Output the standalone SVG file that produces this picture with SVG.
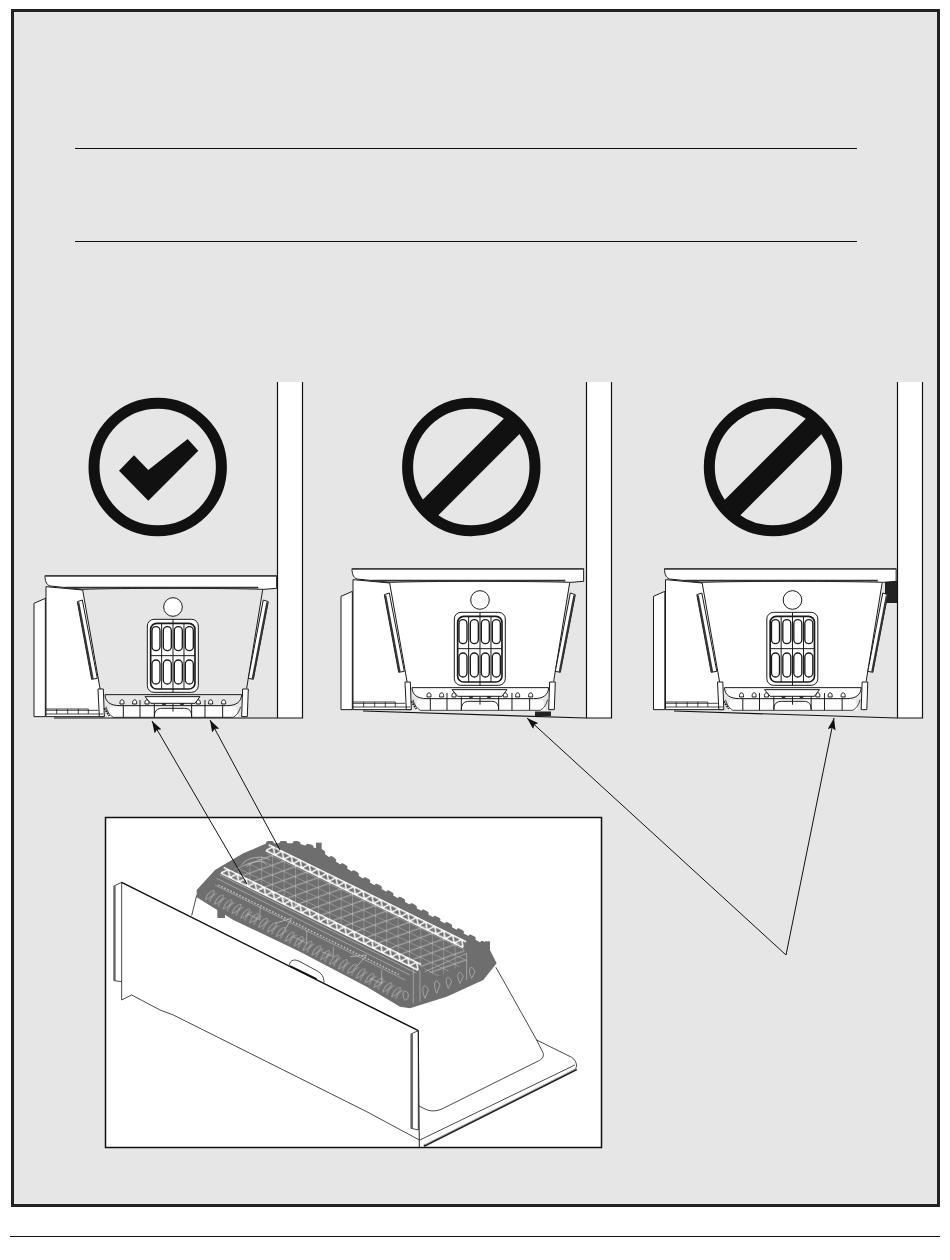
<svg xmlns="http://www.w3.org/2000/svg" width="950" height="1260" viewBox="0 0 950 1260">
<style>
.k{fill:none;stroke:#1a1a1a;stroke-width:3;stroke-linejoin:round}
.w{fill:#fff;stroke:#1a1a1a;stroke-width:3;stroke-linejoin:round}
.n{fill:none;stroke:#1a1a1a;stroke-width:2.4}
.h{fill:#fff;stroke:#1a1a1a;stroke-width:4.5}
.r{fill:none;stroke:#111;stroke-width:11}
.wall{fill:#fff;stroke:#111;stroke-width:1.2}
.g{fill:none;stroke:#c4c4c4;stroke-width:2.2}
.dk{fill:#6e6e6e}
.cn{fill:none;stroke:#111;stroke-width:1;marker-end:url(#ah)}
</style>
<defs>
<marker id="ah" viewBox="0 0 12 8" refX="12" refY="4" markerWidth="12" markerHeight="8" markerUnits="userSpaceOnUse" orient="auto"><path d="M0,0L12,4L0,8L2,4Z" fill="#111"/></marker>
<pattern id="truss" patternUnits="userSpaceOnUse" width="30" height="24"><path d="M0,2H30M0,22H30M0,22L15,2L30,22" fill="none" stroke="#fff" stroke-width="4.500"/></pattern>
<pattern id="grid" patternUnits="userSpaceOnUse" width="38" height="32" patternTransform="matrix(.9 .44 0 .9 380 185)"><path d="M0,0H38M0,0V32M0,32L38,0" fill="none" stroke="#d4d4d4" stroke-width="2.200"/></pattern>
<pattern id="loops" patternUnits="userSpaceOnUse" width="30" height="50"><path d="M5,46C1,28 10,8 16,10C22,12 16,38 5,46M19,46C15,30 24,12 28,14" fill="none" stroke="#c0c0c0" stroke-width="2"/></pattern>
<g id="pill"><rect x="-12" y="-36" width="24" height="72" rx="12" class="h" style="stroke-width:4"/></g>
<g id="unit">
<path d="M188,88L240,385L252,405L668,405L680,385L730,88Z" stroke="none"/>
<path d="M42,130L76,115V470H42Z" class="w"/>
<path d="M78,80L188,90L240,385L252,470H78Z" class="w"/>
<path d="M728,90L680,385" class="k"/>
<path d="M75,47H770V85L732,88C600,84 300,84 188,88L90,78C78,74 75,60 75,47Z" class="w"/>
<path d="M75,48H770" fill="none" stroke="#444" stroke-width="4"/>
<path d="M135,83L715,83" fill="none" stroke="#333" stroke-width="5"/>
<path d="M172,125L187,120L232,355L215,358Z" class="w"/><path d="M175,127L218,357" fill="none" stroke="#333" stroke-width="6"/>
<path d="M730,120L745,125L700,358L685,355Z" class="w"/><path d="M742,127L698,357" fill="none" stroke="#333" stroke-width="6"/>
<circle cx="459" cy="141" r="28" class="w"/>
<rect x="382" y="178" width="153" height="219" rx="20" class="w"/>
<rect x="392" y="190" width="133" height="197" rx="18" fill="#fff" stroke="#1a1a1a" stroke-width="5"/>
<path d="M425,190V387M459,178V397M492,190V387M392,287H525" class="k"/>
<use href="#pill" x="408" y="236"/><use href="#pill" x="442" y="236"/><use href="#pill" x="475" y="236"/><use href="#pill" x="508" y="236"/>
<use href="#pill" x="408" y="336"/><use href="#pill" x="442" y="336"/><use href="#pill" x="475" y="336"/><use href="#pill" x="508" y="336"/>
<path d="M255,404H665C664,425 650,437 620,437H300C270,437 256,425 255,404Z" stroke="#1a1a1a" stroke-width="3"/>
<path d="M272,440H648L655,472H262Z" fill="#fff"/>
<path d="M258,440C262,455 268,465 280,472H640C652,465 658,455 662,440" class="n"/>
<path d="M300,432V427C300,417 312,417 312,427V432ZM338,432V427C338,417 350,417 350,427V432ZM375,432V427C375,417 387,417 387,427V432ZM529,432V427C529,417 541,417 541,427V432ZM566,432V427C566,417 578,417 578,427V432ZM605,432V427C605,417 617,417 617,427V432Z" class="w"/>
<path d="M424,428H440L436,436H428ZM478,428H494L490,436H482Z" fill="#333"/>
<path d="M310,437V472M360,420V472M403,430V472M515,430V472M555,420V472M608,437V472M459,430V455" class="k"/>
<path d="M375,410H540L525,430H392Z" class="w"/>
<path d="M403,470C403,445 420,445 430,445H490C500,445 515,445 515,470" class="k"/>
<path d="M234,387H250L253,470H238Z" class="w"/><path d="M668,387H685L682,470H665Z" class="w"/>
<path d="M78,447H205M78,451H235M78,462H250M110,447V462M143,447V462M175,447V462M205,447V462" class="n"/>
<path d="M253,445L268,468" fill="none" stroke="#222" stroke-width="6" stroke-dasharray="5 3"/>
</g>
</defs>
<rect id="frame" x="12.500" y="10.500" width="926" height="1195" fill="#e6e6e6" stroke="#222" stroke-width="3"/>
<g id="rules" stroke="#111" stroke-width="1">
<path d="M75,148.500H857M75,241.500H857"/>
<path d="M10,1236.500H940"/>
</g>
<g id="node-ok">
<path class="wall" d="M277.500,382V718H302.500V382"/>
<circle class="r" cx="157.700" cy="467" r="63.700"/>
<path d="M119,470.700L134,455.300L148.300,470L187.700,439L198.300,450.700L148.300,500.700Z" fill="#111"/>
<g transform="translate(20 560) scale(.3333)"><use href="#unit" fill="#e6e6e6"/></g>
<path d="M54,718H277" stroke="#111" stroke-width="1.200"/>
</g>
<g id="node-no-1">
<path class="wall" d="M586.500,382V718H611.500V382"/>
<circle class="r" cx="471.300" cy="467" r="63.700"/>
<path d="M425,513L517,421" stroke="#111" stroke-width="22"/>
<g transform="translate(327 553) scale(.3333)"><use href="#unit" fill="#fff"/></g>
<path d="M363,711L586,718" stroke="#111" stroke-width="1.200"/>
<rect x="535" y="711.500" width="16" height="4.500" fill="#222"/>
</g>
<g id="node-no-2">
<path class="wall" d="M897.500,382V718H922.500V382"/>
<circle class="r" cx="773" cy="467" r="63.700"/>
<path d="M727,513L819,421" stroke="#111" stroke-width="22"/>
<rect x="885" y="581" width="12" height="22" fill="#222"/>
<g transform="translate(639.500 553) scale(.3333)"><use href="#unit" fill="#fff"/></g>
<path d="M674,711L897,718" stroke="#111" stroke-width="1.200"/>
</g>
<g id="node-inset">
<rect x="105.500" y="817.500" width="496" height="330" fill="#fff" stroke="#111" stroke-width="1.500"/>
<g transform="translate(100 810) scale(.3333)">
<path class="dk" d="M290,240L345,180L370,165L430,130L500,100L590,100L650,115L700,150L800,212L900,268L1000,322L1100,375L1165,410L1190,460L1150,510L1040,560L930,595L900,590L800,530L600,425L400,330L290,262Z"/>
<path d="M505,100H590L650,115L700,150L800,212L900,268L1000,322L1100,375L1160,407" fill="none" stroke="#6e6e6e" stroke-width="14" stroke-dasharray="10 30" stroke-linecap="round"/>
<rect class="dk" x="648" y="98" width="17" height="45"/>
<rect class="dk" x="1155" y="394" width="15" height="70"/>
<rect class="dk" x="352" y="250" width="23" height="74"/>
<path d="M510,125L1090,402L1100,460L1010,500L960,468L380,190Z" fill="url(#grid)"/>
<path class="g" d="M350,205L930,495M360,195L950,490M345,225L915,510M940,470V580M960,480V575M1100,430V510M975,485L1100,430M480,290V330L440,310M620,360V400L580,380M700,410V440L665,425M845,480V520L810,505" style="stroke-width:1.800"/>
<path class="g" d="M355,225L900,495" stroke-dasharray="5 5" style="stroke-width:4"/>
<path class="g" d="M425,165C440,140 490,135 510,150M440,170C460,150 490,150 500,165"/>
<g transform="translate(333 226) rotate(27.500)"><rect width="660" height="50" fill="url(#loops)"/></g>
<path class="g" d="M525,340L575,325L555,360M750,440L800,435L770,470"/>
<path class="g" d="M910,555C905,540 925,540 925,555C925,575 910,575 910,555ZM975,565C960,530 975,515 985,540ZM1010,550C995,515 1010,500 1020,525ZM1045,535C1030,505 1045,490 1055,515ZM1080,520C1065,490 1080,475 1090,500ZM1115,505C1100,475 1115,460 1125,485Z" style="stroke-width:1.800"/>
<g transform="translate(372 170) rotate(26.200)"><rect width="660" height="24" fill="url(#truss)"/></g>
<g transform="translate(507 102) rotate(26.200)"><rect width="660" height="24" fill="url(#truss)"/></g>
<path d="M65,217L955,662L958,990L800,905L200,610L95,555L65,570V515L42,512V228Z" fill="#fff"/>
<path d="M65,217L955,662" fill="none" stroke="#111" stroke-width="4.500"/>
<path class="n" d="M42,228L65,217V515L42,512ZM65,515V570L95,555L180,600L220,615L800,905L958,990"/>
<path d="M44,228V512" stroke="#666" stroke-width="6"/>
<path class="n" d="M933,672L955,662V960L933,955Z"/>
<path d="M936,672V955" stroke="#666" stroke-width="6"/>
<path class="k" d="M955,662L958,1012"/>
<path class="n" d="M568,465C572,448 585,447 600,455L650,482C665,490 672,500 672,518"/>
<path d="M570,468L650,507" stroke="#111" stroke-width="5"/>
<path class="n" d="M275,317L290,256M1188,472L1310,690L1330,730C1332,742 1325,748 1315,753L1030,895C1010,905 990,905 975,897L957,888M1310,690L1415,742C1425,748 1430,758 1430,770L1422,782M960,990L1425,765"/>
<path d="M972,1008L1430,778" stroke="#222" stroke-width="7"/>
<path d="M975,1004L1428,776" stroke="#fff" stroke-width="1.800"/>
</g>
</g>
<g id="connectors">
<path class="cn" d="M247,884L152,721"/>
<path class="cn" d="M280,850L210,720"/>
<path class="cn" d="M786,955L527,718"/>
<path class="cn" d="M786,955L834,718"/>
</g>
</svg>
